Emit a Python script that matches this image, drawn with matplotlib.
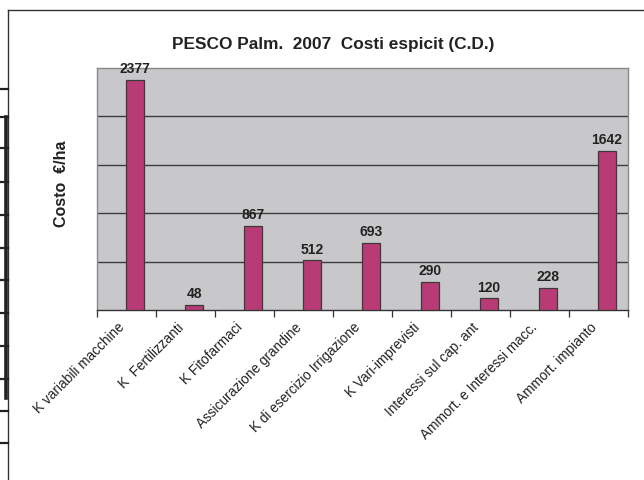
import matplotlib
matplotlib.use("Agg")
import matplotlib.pyplot as plt
from matplotlib.lines import Line2D
import numpy as np

categories = ["K variabili macchine", "K  Fertilizzanti", "K Fitofarmaci",
              "Assicurazione grandine", "K di esercizio Irrigazione",
              "K Vari-imprevisti", "Interessi sul cap. ant",
              "Ammort. e Interessi macc.", "Ammort. impianto"]
values = [2377, 48, 867, 512, 693, 290, 120, 228, 1642]
title = "PESCO Palm.  2007  Costi espicit (C.D.)"
ylabel = "Costo  €/ha"

plt.rcParams['font.family'] = ['Liberation Sans', 'DejaVu Sans']

W, H = 644, 480
fig = plt.figure(figsize=(W / 100, H / 100), dpi=100)
fig.patch.set_facecolor('white')

def fx(px):
    return px / W

def fy(py):
    return 1 - py / H

# page fragments / chart frame
frame_col = '#333333'
fig.add_artist(Line2D([fx(8), fx(8)], [fy(10), fy(481)], color=frame_col, lw=1.0))
fig.add_artist(Line2D([fx(8), fx(660)], [fy(10), fy(10)], color=frame_col, lw=1.0))
fig.add_artist(Line2D([fx(6), fx(6)], [fy(117), fy(398)], color='#222222', lw=2.6))
for yy in [89, 117, 148, 182, 215, 248, 280, 313, 346, 379, 411, 443]:
    fig.add_artist(Line2D([fx(0), fx(8)], [fy(yy), fy(yy)], color='#222222', lw=1.6))

left, right, top, bottom = 97, 628, 68, 310
ax = fig.add_axes([fx(left), fy(bottom), (right - left) / W, (bottom - top) / H])
ax.set_facecolor('#C8C8CA')

n = len(categories)
x = np.arange(n)
ax.bar(x + 0.145, values, width=0.3, color='#B83B75', edgecolor='#3a3a3a', linewidth=0.9, zorder=3)
for xi, v in zip(x, values):
    ax.text(xi + 0.145, v + 40, str(v), ha='center', va='bottom', fontsize=10,
            fontweight='bold', color='#222222', zorder=4)

ax.set_xlim(-0.5, n - 0.5)
ax.set_ylim(0, 2500)
ax.set_yticks([500, 1000, 1500, 2000])
ax.yaxis.grid(True, color='#3c3c3c', linewidth=1.0, zorder=1)
ax.tick_params(axis='y', left=False, labelleft=False)
ax.set_xticks(np.arange(-0.5, n, 1.0))
ax.set_xticklabels([])
ax.tick_params(axis='x', direction='out', length=5, width=0.9, color='#333333')
for s in ['top', 'right', 'left']:
    ax.spines[s].set_color('#8a8a8a')
    ax.spines[s].set_linewidth(1.0)
ax.spines['bottom'].set_color('#333333')
ax.spines['bottom'].set_linewidth(1.0)

for xi, lab in zip(x, categories):
    ax.annotate(lab, xy=(xi, 0), xycoords=('data', 'axes fraction'),
                xytext=(-3, -11), textcoords='offset points',
                rotation=45, rotation_mode='anchor', ha='right', va='center',
                fontsize=9.8, color='#222222')

fig.text(fx(333), fy(45), title, ha='center', va='center', fontsize=12.4,
         fontweight='bold', color='#222222')
fig.text(fx(62), fy(184), ylabel, ha='center', va='center', rotation=90,
         fontsize=11.5, fontweight='bold', color='#222222')

fig.savefig('out.png', dpi=100)
